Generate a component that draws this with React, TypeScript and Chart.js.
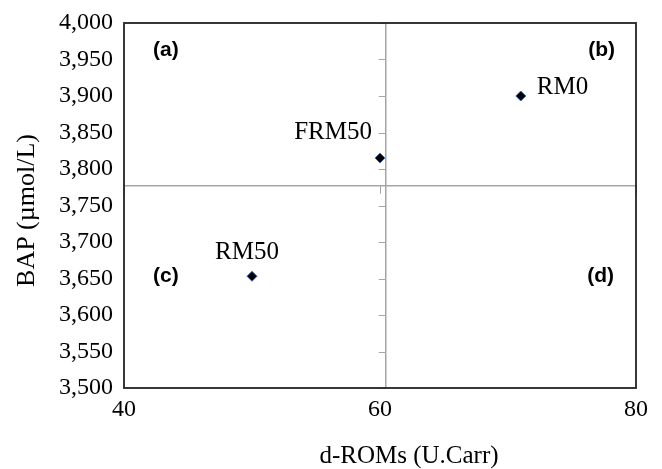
import React, { useEffect, useRef } from "react";
import { Chart, registerables } from "chart.js";

Chart.register(...registerables);

// ---- data ----
const pointNames = ["RM0", "FRM50", "RM50"];
const dRoms = [71, 60, 50];
const bap = [3900, 3815, 3653];
const xTickValues = [40, 60, 80];
const yTickMin = 3500;
const yTickMax = 4000;
const yTickStep = 50;
const crossX = 60.45;
const crossY = 3777;
const quadrantNames = ["(a)", "(b)", "(c)", "(d)"];
const xTitle = "d-ROMs (U.Carr)";
const yTitle = "BAP (µmol/L)";

// label placement styles (relative to point)
const labelSide = ["right", "left", "above"];

const SERIF = "'Liberation Serif', 'Times New Roman', serif";
const SANS = "'Liberation Sans', Arial, sans-serif";

const W = 662;
const H = 469;

const quadPlugin = {
  id: "quadPlugin",
  beforeDatasetsDraw(chart: any) {
    const { ctx, chartArea, scales } = chart;
    const { left, right, top, bottom } = chartArea;
    const x = scales.x;
    const y = scales.y;
    const cx = x.getPixelForValue(crossX);
    const cy = y.getPixelForValue(crossY);
    ctx.save();
    ctx.strokeStyle = "#a6a6a6";
    ctx.lineWidth = 1.5;
    const line = (x1: number, y1: number, x2: number, y2: number) => {
      ctx.beginPath();
      ctx.moveTo(x1, y1);
      ctx.lineTo(x2, y2);
      ctx.stroke();
    };
    line(cx, top, cx, bottom);
    line(left, cy, right, cy);
    ctx.lineWidth = 1;
    for (let v = yTickMin; v <= yTickMax; v += yTickStep) {
      const py = Math.round(y.getPixelForValue(v)) + 0.5;
      line(cx - 7, py, cx, py);
    }
    for (const v of xTickValues) {
      const px = Math.round(x.getPixelForValue(v)) + 0.5;
      line(px, cy, px, cy + 8);
    }
    ctx.strokeStyle = "#222";
    ctx.lineWidth = 1.8;
    ctx.strokeRect(left, top, right - left, bottom - top);
    ctx.restore();
  },
  afterDraw(chart: any) {
    const { ctx, chartArea, scales } = chart;
    const { left, right, top, bottom } = chartArea;
    const x = scales.x;
    const y = scales.y;
    ctx.save();
    // quadrant labels
    ctx.fillStyle = "#000";
    ctx.font = `bold 21px ${SANS}`;
    ctx.textBaseline = "middle";
    const cy = y.getPixelForValue(crossY);
    const upperY = top + 27;
    const lowerY = cy + 90;
    ctx.textAlign = "left";
    ctx.fillText(quadrantNames[0], left + 29, upperY);
    ctx.fillText(quadrantNames[2], left + 29, lowerY);
    ctx.textAlign = "right";
    ctx.fillText(quadrantNames[1], right - 21, upperY);
    ctx.fillText(quadrantNames[3], right - 22, lowerY);
    // point labels
    ctx.font = `25px ${SERIF}`;
    pointNames.forEach((name, i) => {
      const px = x.getPixelForValue(dRoms[i]);
      const py = y.getPixelForValue(bap[i]);
      const side = labelSide[i];
      if (side === "right") {
        ctx.textAlign = "left";
        ctx.fillText(name, px + 16, py - 9);
      } else if (side === "left") {
        ctx.textAlign = "right";
        ctx.fillText(name, px - 8, py - 26);
      } else {
        ctx.textAlign = "center";
        ctx.fillText(name, px - 5, py - 24);
      }
    });
    // axis titles
    ctx.font = `25px ${SERIF}`;
    ctx.textAlign = "center";
    ctx.fillText(xTitle, (left + right) / 2 + 29, bottom + 68);
    ctx.save();
    ctx.translate(27, (top + bottom) / 2 + 5);
    ctx.rotate(-Math.PI / 2);
    ctx.font = `26px ${SERIF}`;
    ctx.fillText(yTitle, 0, 0);
    ctx.restore();
    ctx.restore();
  },
};

export default function App() {
  const ref = useRef<HTMLCanvasElement | null>(null);
  useEffect(() => {
    if (!ref.current) return;
    const chart = new Chart(ref.current, {
      type: "scatter",
      data: {
        datasets: [
          {
            data: dRoms.map((v, i) => ({ x: v, y: bap[i] })),
            pointStyle: "rectRot",
            pointRadius: 5,
            pointBackgroundColor: "#000",
            pointBorderColor: "#3a66c4",
            pointBorderWidth: 1,
          },
        ],
      },
      options: {
        animation: false,
        responsive: false,
        maintainAspectRatio: false,
        devicePixelRatio: 1,
        layout: { padding: { top: 23, right: 26, left: 0, bottom: 0 } },
        plugins: { legend: { display: false }, tooltip: { enabled: false } },
        scales: {
          x: {
            type: "linear",
            min: 40,
            max: 80,
            afterBuildTicks: (s: any) => {
              s.ticks = xTickValues.map((v) => ({ value: v }));
            },
            afterFit: (s: any) => {
              s.height = 81;
              s.paddingLeft = 0;
              s.paddingRight = 0;
            },
            grid: { display: false, drawTicks: false },
            border: { display: false },
            ticks: {
              color: "#000",
              font: { family: SERIF, size: 24 },
              padding: 7,
              maxRotation: 0,
            },
          },
          y: {
            type: "linear",
            min: yTickMin,
            max: yTickMax,
            ticks: {
              stepSize: yTickStep,
              color: "#000",
              font: { family: SERIF, size: 24 },
              padding: 11,
              callback: (v: any) => Number(v).toLocaleString("en-US"),
            },
            afterFit: (s: any) => {
              s.width = 124;
              s.paddingTop = 0;
              s.paddingBottom = 0;
            },
            grid: { display: false, drawTicks: false },
            border: { display: false },
          },
        },
      },
      plugins: [quadPlugin],
    });
    return () => chart.destroy();
  }, []);
  return (
    <div style={{ position: "fixed", left: 0, top: 0, width: W, height: H, background: "#fff" }}>
      <canvas ref={ref} width={W} height={H} style={{ display: "block", width: W, height: H }} />
    </div>
  );
}
